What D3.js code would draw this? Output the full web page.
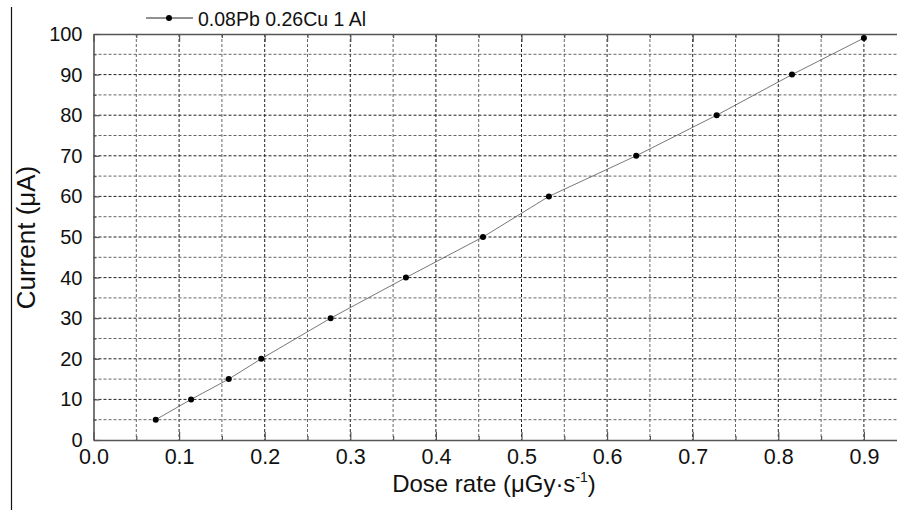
<!DOCTYPE html>
<html>
<head>
<meta charset="utf-8">
<script src="https://cdnjs.cloudflare.com/ajax/libs/d3/7.8.5/d3.min.js"></script>
<style>
  body { margin: 0; background: #fff; }
  text { font-family: "Liberation Sans", Arial, sans-serif; fill: #111; }
</style>
</head>
<body>
<div class="chart"></div>
<script>
let doseRate = [0.0727, 0.114, 0.158, 0.196, 0.277, 0.365, 0.455, 0.532, 0.634, 0.728, 0.816, 0.900];
let current = [5, 10, 15, 20, 30, 40, 50, 60, 70, 80, 90, 99];
let xTicks = [0.0, 0.1, 0.2, 0.3, 0.4, 0.5, 0.6, 0.7, 0.8, 0.9];
let yTicks = [0, 10, 20, 30, 40, 50, 60, 70, 80, 90, 100];
let seriesName = '0.08Pb 0.26Cu 1 Al';

let points = doseRate.map((d, i) => ({ x: d, y: current[i] }));

let svg = d3
  .select('.chart')
  .append('svg')
  .attr('width', 897)
  .attr('height', 510);

let x = d3.scaleLinear().domain([0, 0.95]).range([93.5, 93.5 + 856 * 0.95]);
let y = d3.scaleLinear().domain([0, 100]).range([440, 34]);

// stray frame edge on the left
svg.append('line')
  .attr('x1', 11.5).attr('x2', 11.5)
  .attr('y1', 7).attr('y2', 510)
  .attr('stroke', '#111').attr('stroke-width', 1.2);

// grid: minor + major, both dashed
let xMinor = d3.range(0.05, 0.95, 0.1);
let yMinor = d3.range(5, 100, 10);

let grid = svg.append('g');
grid.selectAll('.vmin').data(xMinor).enter().append('line')
  .attr('x1', d => x(d)).attr('x2', d => x(d))
  .attr('y1', y(100)).attr('y2', y(0))
  .attr('stroke', '#666').attr('stroke-width', 1).attr('stroke-dasharray', '3,2');
grid.selectAll('.vmaj').data(xTicks.slice(1)).enter().append('line')
  .attr('x1', d => x(d)).attr('x2', d => x(d))
  .attr('y1', y(100)).attr('y2', y(0))
  .attr('stroke', '#222').attr('stroke-width', 1).attr('stroke-dasharray', '3,2');
grid.selectAll('.hmin').data(yMinor).enter().append('line')
  .attr('x1', x(0)).attr('x2', 897)
  .attr('y1', d => y(d)).attr('y2', d => y(d))
  .attr('stroke', '#666').attr('stroke-width', 1).attr('stroke-dasharray', '3,2');
grid.selectAll('.hmaj').data(yTicks.slice(1, -1)).enter().append('line')
  .attr('x1', x(0)).attr('x2', 897)
  .attr('y1', d => y(d)).attr('y2', d => y(d))
  .attr('stroke', '#222').attr('stroke-width', 1).attr('stroke-dasharray', '3,2');

// axes
let axisColor = '#555';
let xAxisG = svg.append('g').attr('transform', `translate(0,${y(0)})`)
  .call(d3.axisBottom(x).tickValues(xTicks).tickFormat(d3.format('.1f')).tickSizeInner(-8).tickSizeOuter(0).tickPadding(9));
svg.append('g').attr('transform', `translate(0,${y(100)})`)
  .call(d3.axisTop(x).tickValues(xTicks).tickFormat('').tickSizeInner(-8).tickSizeOuter(0));
let yAxisG = svg.append('g').attr('transform', `translate(${x(0)},0)`)
  .call(d3.axisLeft(y).tickValues(yTicks).tickSizeInner(-6).tickSizeOuter(0).tickPadding(11));

// minor ticks
svg.append('g').attr('transform', `translate(0,${y(0)})`)
  .call(d3.axisBottom(x).tickValues(xMinor).tickFormat('').tickSizeInner(-4).tickSizeOuter(0))
  .select('.domain').remove();
svg.append('g').attr('transform', `translate(0,${y(100)})`)
  .call(d3.axisTop(x).tickValues(xMinor).tickFormat('').tickSizeInner(-4).tickSizeOuter(0))
  .select('.domain').remove();
svg.append('g').attr('transform', `translate(${x(0)},0)`)
  .call(d3.axisLeft(y).tickValues(yMinor).tickFormat('').tickSizeInner(-3).tickSizeOuter(0))
  .select('.domain').remove();

svg.selectAll('.domain').attr('stroke', axisColor).attr('stroke-width', 1.6);
svg.selectAll('.tick line').attr('stroke', axisColor).attr('stroke-width', 1.2);
svg.selectAll('.tick text')
  .style('font-family', '"Liberation Sans", Arial, sans-serif')
  .attr('fill', '#111');
xAxisG.selectAll('.tick text').style('font-size', '21.5px');
yAxisG.selectAll('.tick text').style('font-size', '20px');

// data line + markers
let line = d3.line().x(d => x(d.x)).y(d => y(d.y));
svg.append('path')
  .datum(points)
  .attr('d', line)
  .attr('fill', 'none')
  .attr('stroke', '#555')
  .attr('stroke-width', 0.8);

svg.selectAll('.pt').data(points).enter().append('circle')
  .attr('cx', d => x(d.x))
  .attr('cy', d => y(d.y))
  .attr('r', 3)
  .attr('fill', '#000');

// legend
let legend = svg.append('g').attr('transform', 'translate(146,18)');
legend.append('line').attr('x1', 0).attr('x2', 47).attr('y1', 0).attr('y2', 0)
  .attr('stroke', '#222').attr('stroke-width', 1);
legend.append('circle').attr('cx', 23).attr('cy', 0).attr('r', 3).attr('fill', '#000');
legend.append('text').attr('x', 52).attr('y', 7.5)
  .style('font-size', '19.5px').text(seriesName);

// axis titles
svg.append('text')
  .attr('transform', 'translate(35,237.5) rotate(-90)')
  .attr('text-anchor', 'middle')
  .style('font-size', '26px')
  .text('Current (μA)');

let xt = svg.append('text')
  .attr('x', 494).attr('y', 492)
  .attr('text-anchor', 'middle')
  .style('font-size', '24px');
xt.append('tspan').text('Dose rate (μGy·s');
xt.append('tspan').attr('dy', -10).style('font-size', '14px').text('-1');
xt.append('tspan').attr('dy', 10).text(')');
</script>
</body>
</html>
